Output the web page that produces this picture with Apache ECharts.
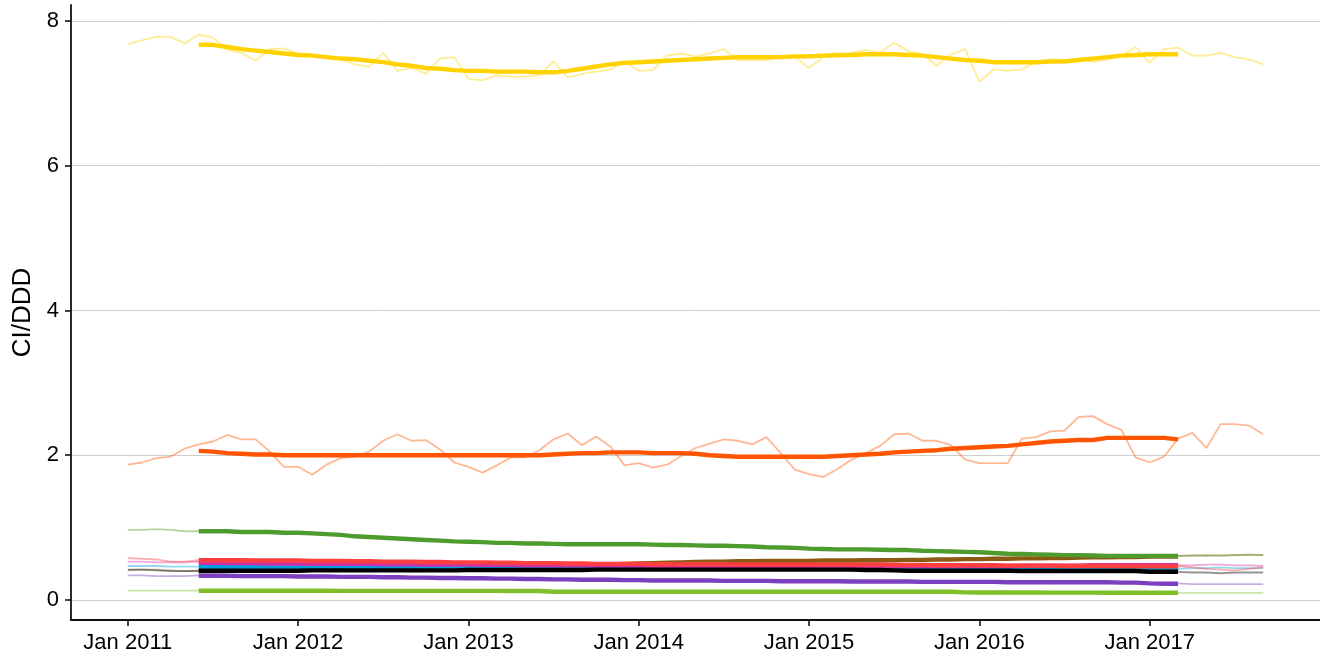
<!DOCTYPE html>
<html>
<head>
<meta charset="utf-8">
<script src="https://cdn.jsdelivr.net/npm/echarts@6/dist/echarts.min.js"></script>
<style>
  html, body { margin: 0; padding: 0; background: #fff; }
  #chart { width: 1320px; height: 657px; }
</style>
</head>
<body>
<div id="chart"></div>
<script>
// x = months since Jan 2011; raw series run Jan 2011 .. Sep 2017,
// the smoothed (thick) series run Jun 2011 .. Mar 2017
const rawStart = 0
const maStart = 5
const yearTicks = [0, 12, 24, 36, 48, 60, 72]
const yTicks = [0, 2, 4, 6, 8]

// yellow
const yellowRaw = [7.68,7.73,7.78,7.78,7.69,7.81,7.77,7.60,7.56,7.45,7.61,7.62,
  7.55,7.53,7.50,7.47,7.40,7.37,7.56,7.31,7.35,7.27,7.48,7.50,
  7.20,7.18,7.25,7.23,7.23,7.25,7.44,7.22,7.27,7.30,7.33,7.44,
  7.31,7.32,7.52,7.55,7.51,7.55,7.61,7.46,7.46,7.46,7.50,7.50,
  7.35,7.50,7.50,7.56,7.60,7.56,7.70,7.58,7.54,7.38,7.54,7.61,
  7.16,7.33,7.31,7.33,7.44,7.47,7.46,7.47,7.43,7.47,7.51,7.64,
  7.42,7.61,7.63,7.52,7.52,7.56,7.50,7.47,7.40]
const yellowMA = [7.67,7.67,7.64,7.61,7.59,7.57,7.55,7.53,7.52,7.50,7.48,7.47,
  7.45,7.43,7.40,7.38,7.35,7.34,7.32,7.31,7.31,7.30,7.30,7.30,
  7.29,7.29,7.31,7.34,7.37,7.40,7.42,7.43,7.44,7.45,7.46,7.47,
  7.48,7.49,7.50,7.50,7.50,7.50,7.51,7.51,7.52,7.53,7.53,7.54,
  7.54,7.54,7.53,7.52,7.50,7.48,7.46,7.45,7.43,7.43,7.43,7.43,
  7.44,7.44,7.46,7.48,7.50,7.52,7.53,7.54,7.54,7.54]

// orange
const orangeRaw = [1.87,1.90,1.96,1.98,2.09,2.15,2.19,2.28,2.22,2.22,2.05,1.84,
  1.84,1.73,1.87,1.96,1.98,2.05,2.20,2.29,2.20,2.21,2.08,1.90,
  1.84,1.76,1.86,1.97,1.97,2.07,2.22,2.30,2.14,2.26,2.12,1.86,
  1.89,1.83,1.87,1.99,2.10,2.16,2.22,2.20,2.15,2.25,2.03,1.80,
  1.74,1.70,1.81,1.94,2.03,2.13,2.29,2.30,2.20,2.20,2.14,1.94,
  1.89,1.89,1.89,2.23,2.25,2.33,2.34,2.53,2.54,2.43,2.35,1.97,
  1.90,1.98,2.23,2.31,2.10,2.43,2.43,2.41,2.29]
const orangeMA = [2.06,2.05,2.03,2.02,2.01,2.01,2.00,2.00,2.00,2.00,2.00,2.00,
  2.00,2.00,2.00,2.00,2.00,2.00,2.00,2.00,2.00,2.00,2.00,2.00,
  2.00,2.01,2.02,2.03,2.03,2.04,2.04,2.04,2.03,2.03,2.03,2.02,
  2.00,1.99,1.98,1.98,1.98,1.98,1.98,1.98,1.98,1.99,2.00,2.01,
  2.02,2.04,2.05,2.06,2.07,2.09,2.10,2.11,2.12,2.13,2.15,2.17,
  2.19,2.20,2.21,2.21,2.24,2.24,2.24,2.24,2.24,2.22]

// green
const greenRaw = [0.97,0.97,0.98,0.97,0.95,0.95,
  0.96,0.94,0.95,0.93,0.94,0.93,0.94,0.92,0.91,0.89,0.88,0.87,
  0.86,0.85,0.84,0.83,0.82,0.81,0.81,0.80,0.79,0.79,0.78,0.78,
  0.78,0.77,0.77,0.77,0.78,0.77,0.77,0.77,0.76,0.76,0.75,0.75,
  0.75,0.74,0.74,0.73,0.72,0.72,0.71,0.70,0.70,0.71,0.70,0.69,
  0.69,0.69,0.68,0.68,0.67,0.66,0.66,0.65,0.64,0.63,0.63,0.62,
  0.62,0.62,0.61,0.61,0.61,0.61,0.61,0.61,
  0.61,0.62,0.61,0.62,0.62,0.63,0.62]
const greenMA = [0.95,0.95,0.95,0.94,0.94,0.94,0.93,0.93,0.92,0.91,0.90,0.88,
  0.87,0.86,0.85,0.84,0.83,0.82,0.81,0.805,0.80,0.79,0.79,0.78,
  0.78,0.775,0.77,0.77,0.77,0.77,0.77,0.77,0.765,0.76,0.76,0.755,
  0.75,0.75,0.745,0.74,0.73,0.725,0.72,0.71,0.705,0.70,0.70,0.70,
  0.695,0.69,0.69,0.68,0.675,0.67,0.665,0.66,0.65,0.64,0.635,0.63,
  0.625,0.62,0.62,0.615,0.61,0.61,0.61,0.61,0.61,0.61]

// red
const redRaw = [0.58,0.57,0.56,0.53,0.53,0.55,
  0.55,0.54,0.55,0.54,0.55,0.54,0.54,0.55,0.54,0.53,0.54,0.53,
  0.53,0.52,0.53,0.52,0.53,0.52,0.52,0.51,0.52,0.51,0.51,0.52,
  0.51,0.50,0.51,0.50,0.50,0.51,0.50,0.49,0.50,0.49,0.50,0.49,
  0.49,0.50,0.49,0.49,0.48,0.49,0.49,0.50,0.49,0.48,0.49,0.49,
  0.49,0.48,0.49,0.48,0.48,0.47,0.48,0.48,0.47,0.48,0.47,0.47,
  0.47,0.48,0.47,0.47,0.46,0.47,0.47,0.46,
  0.47,0.45,0.43,0.42,0.41,0.43,0.45]
const redMA = [0.55,0.55,0.55,0.55,0.545,0.545,0.545,0.545,0.54,0.54,0.54,0.535,
  0.535,0.53,0.53,0.53,0.525,0.525,0.52,0.52,0.52,0.515,0.515,0.51,
  0.51,0.51,0.505,0.505,0.50,0.50,0.50,0.50,0.495,0.495,0.495,0.495,
  0.495,0.495,0.49,0.49,0.49,0.49,0.49,0.49,0.49,0.49,0.49,0.49,
  0.49,0.485,0.485,0.485,0.48,0.48,0.48,0.48,0.48,0.475,0.475,0.475,
  0.475,0.47,0.47,0.47,0.47,0.465,0.465,0.465,0.465,0.465]

// magenta
const magentaRaw = [0.53,0.53,0.52,0.52,0.52,0.53,
  0.51,0.51,0.52,0.51,0.51,0.50,0.51,0.50,0.50,0.50,0.50,0.49,
  0.50,0.49,0.49,0.49,0.50,0.49,0.49,0.48,0.49,0.48,0.48,0.48,
  0.48,0.48,0.47,0.48,0.47,0.47,0.47,0.47,0.48,0.47,0.47,0.46,
  0.47,0.46,0.47,0.46,0.46,0.47,0.46,0.46,0.47,0.46,0.47,0.46,
  0.47,0.47,0.46,0.47,0.47,0.47,0.47,0.48,0.47,0.47,0.48,0.47,
  0.48,0.47,0.48,0.48,0.47,0.48,0.48,0.48,
  0.48,0.48,0.49,0.49,0.48,0.48,0.47]
const magentaMA = [0.515,0.515,0.51,0.51,0.51,0.505,0.505,0.505,0.50,0.50,0.50,0.50,
  0.50,0.495,0.495,0.495,0.49,0.49,0.49,0.49,0.485,0.485,0.485,0.48,
  0.48,0.48,0.48,0.48,0.475,0.475,0.475,0.475,0.47,0.47,0.47,0.47,
  0.47,0.47,0.47,0.465,0.465,0.465,0.465,0.465,0.465,0.465,0.465,0.465,
  0.465,0.47,0.47,0.47,0.47,0.47,0.47,0.47,0.47,0.47,0.475,0.475,
  0.475,0.475,0.475,0.48,0.48,0.48,0.48,0.48,0.48,0.48]

// cyan
const cyanRaw = [0.47,0.47,0.47,0.46,0.46,0.46,
  0.46,0.46,0.46,0.46,0.45,0.46,0.46,0.45,0.46,0.45,0.46,0.45,
  0.45,0.46,0.45,0.45,0.46,0.45,0.45,0.45,0.46,0.45,0.45,0.45,
  0.45,0.45,0.44,0.45,0.45,0.45,0.45,0.44,0.45,0.44,0.45,0.44,
  0.44,0.44,0.45,0.44,0.44,0.44,0.44,0.44,0.44,0.43,0.44,0.44,
  0.44,0.43,0.44,0.43,0.44,0.43,0.43,0.44,0.43,0.43,0.43,0.43,
  0.43,0.42,0.43,0.43,0.42,0.43,0.42,0.42,
  0.43,0.44,0.44,0.45,0.44,0.44,0.44]
const cyanMA = [0.46,0.46,0.46,0.46,0.46,0.46,0.46,0.455,0.455,0.455,0.455,0.455,
  0.455,0.455,0.455,0.455,0.455,0.455,0.455,0.455,0.45,0.45,0.45,0.45,
  0.45,0.45,0.45,0.45,0.45,0.45,0.45,0.45,0.445,0.445,0.445,0.445,
  0.445,0.445,0.44,0.44,0.44,0.44,0.44,0.44,0.44,0.44,0.44,0.44,
  0.435,0.435,0.435,0.435,0.435,0.435,0.435,0.435,0.43,0.43,0.43,0.43,
  0.43,0.43,0.43,0.425,0.425,0.425,0.425,0.425,0.425,0.425]

// black
const blackRaw = [0.42,0.42,0.41,0.40,0.40,0.40,
  0.41,0.40,0.41,0.41,0.40,0.41,0.41,0.41,0.40,0.41,0.41,0.41,
  0.41,0.41,0.42,0.41,0.41,0.42,0.41,0.42,0.42,0.41,0.42,0.42,
  0.42,0.41,0.42,0.42,0.42,0.42,0.42,0.42,0.42,0.43,0.42,0.42,
  0.42,0.42,0.43,0.42,0.42,0.42,0.42,0.42,0.42,0.41,0.42,0.41,
  0.41,0.41,0.40,0.41,0.41,0.40,0.41,0.40,0.40,0.40,0.41,0.40,
  0.40,0.40,0.40,0.40,0.40,0.39,0.39,0.39,
  0.39,0.38,0.38,0.37,0.38,0.38,0.38]
const blackMA = [0.405,0.405,0.405,0.405,0.405,0.405,0.405,0.405,0.41,0.41,0.41,0.41,
  0.41,0.41,0.41,0.41,0.41,0.41,0.41,0.415,0.415,0.415,0.415,0.415,
  0.415,0.415,0.415,0.415,0.42,0.42,0.42,0.42,0.42,0.42,0.42,0.42,
  0.42,0.42,0.42,0.42,0.42,0.42,0.42,0.42,0.42,0.42,0.42,0.415,
  0.415,0.41,0.405,0.405,0.405,0.405,0.405,0.405,0.405,0.405,0.40,0.40,
  0.40,0.40,0.40,0.40,0.40,0.40,0.40,0.39,0.39,0.39]

// brown
const brownRaw = [0.41,0.42,0.42,0.41,0.40,0.41,
  0.40,0.41,0.41,0.41,0.41,0.42,0.42,0.42,0.42,0.43,0.43,0.43,
  0.44,0.44,0.44,0.44,0.44,0.45,0.45,0.45,0.45,0.46,0.46,0.46,
  0.47,0.47,0.48,0.48,0.49,0.50,0.50,0.51,0.51,0.52,0.53,0.53,
  0.53,0.53,0.54,0.54,0.54,0.54,0.54,0.54,0.55,0.55,0.55,0.55,
  0.55,0.56,0.56,0.56,0.56,0.57,0.57,0.57,0.57,0.58,0.58,0.58,
  0.58,0.59,0.59,0.59,0.60,0.60,0.60,0.60,
  0.61,0.61,0.62,0.61,0.62,0.62,0.62]
const brownMA = [0.40,0.40,0.405,0.405,0.41,0.41,0.415,0.415,0.42,0.42,0.425,0.43,
  0.435,0.44,0.44,0.44,0.44,0.445,0.445,0.45,0.45,0.455,0.455,0.46,
  0.465,0.47,0.475,0.48,0.485,0.49,0.50,0.505,0.51,0.515,0.52,0.525,
  0.53,0.53,0.535,0.535,0.54,0.54,0.54,0.54,0.545,0.545,0.545,0.55,
  0.55,0.55,0.555,0.555,0.56,0.56,0.565,0.565,0.57,0.57,0.575,0.575,
  0.58,0.58,0.585,0.59,0.59,0.595,0.595,0.60,0.60,0.60]

// purple
const purpleRaw = [0.34,0.34,0.33,0.33,0.33,0.34,
  0.33,0.33,0.33,0.33,0.32,0.33,0.32,0.32,0.32,0.32,0.31,0.31,
  0.31,0.31,0.31,0.30,0.30,0.30,0.30,0.29,0.29,0.29,0.29,0.29,
  0.28,0.28,0.28,0.28,0.28,0.27,0.27,0.27,0.27,0.27,0.27,0.27,
  0.27,0.26,0.26,0.26,0.26,0.26,0.26,0.26,0.26,0.26,0.25,0.25,
  0.25,0.25,0.25,0.25,0.25,0.25,0.25,0.25,0.25,0.24,0.24,0.24,
  0.24,0.24,0.24,0.24,0.24,0.23,0.23,0.23,
  0.23,0.22,0.22,0.22,0.22,0.22,0.22]
const purpleMA = [0.335,0.335,0.335,0.33,0.33,0.33,0.33,0.325,0.325,0.325,0.32,0.32,
  0.32,0.315,0.315,0.31,0.31,0.305,0.305,0.30,0.30,0.295,0.295,0.29,
  0.29,0.285,0.285,0.28,0.28,0.28,0.275,0.275,0.27,0.27,0.27,0.27,
  0.27,0.265,0.265,0.265,0.265,0.26,0.26,0.26,0.26,0.26,0.255,0.255,
  0.255,0.255,0.255,0.25,0.25,0.25,0.25,0.25,0.25,0.245,0.245,0.245,
  0.245,0.245,0.245,0.245,0.245,0.24,0.24,0.23,0.225,0.225]

// lime
const limeRaw = [0.13,0.13,0.13,0.13,0.13,0.13,
  0.13,0.13,0.13,0.12,0.13,0.13,0.12,0.13,0.13,0.12,0.13,0.12,
  0.12,0.13,0.12,0.12,0.12,0.13,0.12,0.12,0.12,0.12,0.12,0.12,
  0.12,0.12,0.11,0.12,0.11,0.12,0.11,0.12,0.11,0.11,0.12,0.11,
  0.11,0.11,0.12,0.11,0.11,0.11,0.11,0.12,0.11,0.11,0.11,0.11,
  0.11,0.11,0.11,0.11,0.11,0.11,0.10,0.11,0.10,0.10,0.10,0.10,
  0.10,0.10,0.10,0.10,0.10,0.10,0.10,0.10,
  0.10,0.10,0.10,0.10,0.10,0.10,0.10]
const limeMA = [0.128,0.128,0.128,0.128,0.128,0.128,0.128,0.128,0.128,0.128,0.127,0.127,
  0.127,0.127,0.127,0.127,0.126,0.126,0.126,0.126,0.126,0.126,0.125,0.125,
  0.125,0.115,0.115,0.115,0.115,0.115,0.115,0.115,0.115,0.115,0.115,0.115,
  0.115,0.115,0.115,0.115,0.115,0.115,0.115,0.115,0.115,0.115,0.115,0.115,
  0.115,0.115,0.115,0.115,0.115,0.115,0.105,0.103,0.103,0.103,0.103,0.103,
  0.102,0.102,0.102,0.102,0.101,0.101,0.101,0.100,0.100,0.100]

// draw order: raw lines first, then thick smoothed lines
const groups = [
  { name: 'brown',   color: '#8B5A12', raw: brownRaw,   ma: brownMA },
  { name: 'cyan',    color: '#00A0DC', raw: cyanRaw,    ma: cyanMA },
  { name: 'magenta', color: '#D02FA8', raw: magentaRaw, ma: magentaMA },
  { name: 'red',     color: '#FF4040', raw: redRaw,     ma: redMA },
  { name: 'black',   color: '#000000', raw: blackRaw,   ma: blackMA },
  { name: 'purple',  color: '#7B3FBF', raw: purpleRaw,  ma: purpleMA },
  { name: 'lime',    color: '#7FBF2A', raw: limeRaw,    ma: limeMA },
  { name: 'green',   color: '#4E9B2E', raw: greenRaw,   ma: greenMA },
  { name: 'orange',  color: '#FF5500', raw: orangeRaw,  ma: orangeMA },
  { name: 'yellow',  color: '#FFD200', raw: yellowRaw,  ma: yellowMA }
]

function pairs(vals, start) {
  return vals.map((v, i) => [start + i, v])
}

const series = []
groups.forEach(g => {
  series.push({
    name: g.name + ' raw', type: 'line', showSymbol: false, silent: true,
    data: pairs(g.raw, rawStart),
    lineStyle: { color: g.color, width: 1.8, opacity: 0.42 }
  })
})
groups.forEach(g => {
  series.push({
    name: g.name, type: 'line', showSymbol: false, silent: true,
    data: pairs(g.ma, maStart),
    lineStyle: { color: g.color, width: 4.4, opacity: 1 }
  })
})

const font = 'Liberation Sans, Arial, sans-serif'
const chart = echarts.init(document.getElementById('chart'))
chart.setOption({
  animation: false,
  grid: { left: 71, right: 0, top: 5, bottom: 37, containLabel: false },
  xAxis: {
    type: 'value', min: -4, max: 84,
    axisLine: { show: true, onZero: false, lineStyle: { color: '#111', width: 1.8 } },
    axisTick: { show: true, length: 6, customValues: yearTicks, lineStyle: { color: '#111', width: 1.6 } },
    axisLabel: {
      customValues: yearTicks, margin: 12, color: '#000', fontSize: 22, fontFamily: font,
      formatter: v => 'Jan ' + (2011 + v / 12)
    },
    splitLine: { show: false }
  },
  yAxis: {
    type: 'value', min: -0.276, max: 8.22,
    name: 'CI/DDD', nameLocation: 'middle', nameGap: 23, nameRotate: 90,
    nameTextStyle: { color: '#000', fontSize: 26, fontFamily: font },
    axisLine: { show: true, onZero: false, lineStyle: { color: '#111', width: 1.8 } },
    axisTick: { show: true, length: 6, customValues: yTicks, lineStyle: { color: '#111', width: 1.6 } },
    axisLabel: { customValues: yTicks, margin: 12, color: '#000', fontSize: 22, fontFamily: font },
    splitLine: { show: true, lineStyle: { color: '#cfcfcf', width: 1 } }
  },
  series: series
})
</script>
</body>
</html>
